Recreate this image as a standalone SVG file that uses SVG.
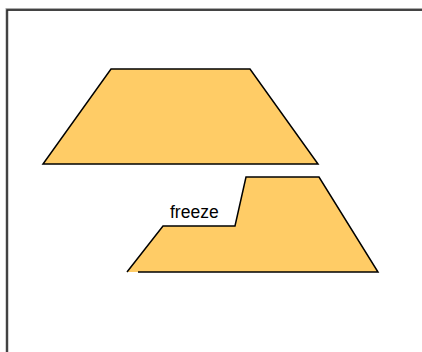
<svg xmlns="http://www.w3.org/2000/svg" width="422" height="352" viewBox="0 0 422 352">
<style>
.fill{fill:#FFCC66;stroke:none}
.edge{fill:none;stroke:#000;stroke-width:1.5;stroke-linejoin:miter}
.lbl{font-family:"Liberation Sans",Arial,sans-serif;font-size:17.5px;fill:#000}
</style>
<rect width="422" height="352" fill="#fff"/>
<g id="frame">
<path d="M7,352 V9.5 H422" fill="none" stroke="#aaa" stroke-width="3"/>
<path d="M7,352 V10 H422" fill="none" stroke="#222" stroke-width="1.5"/>
</g>
<g id="before">
<polygon class="fill" points="111,69 250,69 318,164 43,164"/>
<polygon class="edge" points="111,69 250,69 318,164 43,164"/>
</g>
<g id="after">
<polygon class="fill" points="127,272 163,226 235,226 246,177 319,177 378,272"/>
<path class="edge" d="M138,272 H378 L319,177 H246 L235,226 H163 L127,272"/>
<text class="lbl" x="170" y="218">freeze</text>
</g>
</svg>
